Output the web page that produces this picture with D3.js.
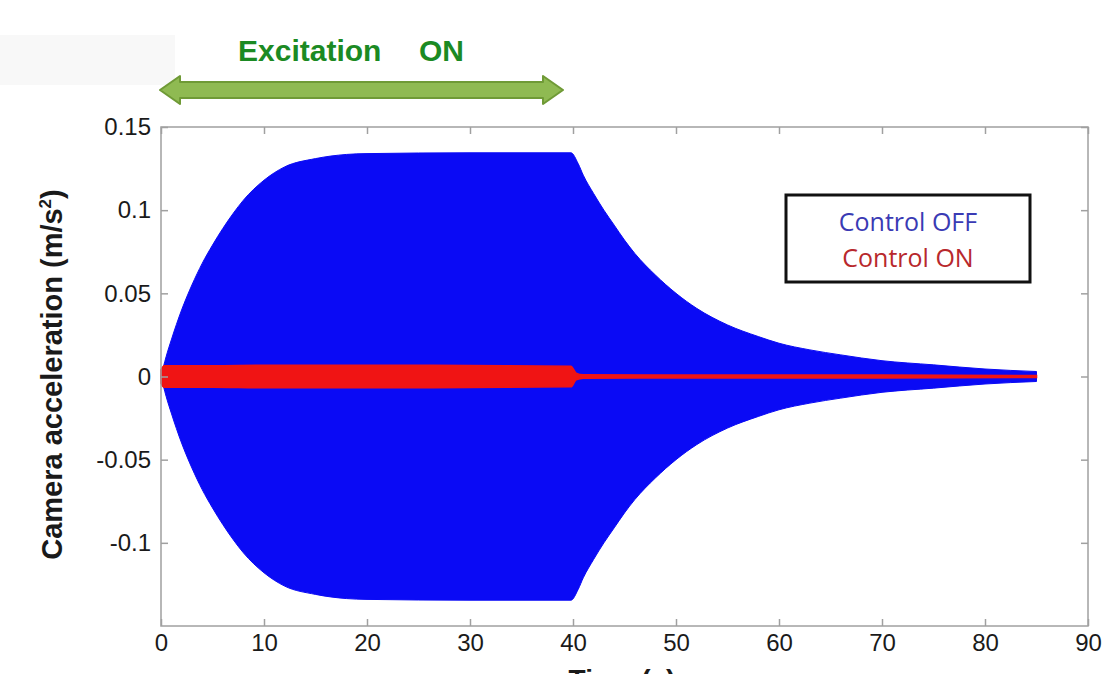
<!DOCTYPE html>
<html>
<head>
<meta charset="utf-8">
<script src="https://cdn.jsdelivr.net/npm/d3@7"></script>
<style>
  body { margin: 0; background: #fff; }
  svg { display: block; }
</style>
</head>
<body>
<svg id="chart" width="1106" height="674"></svg>
<script>
// envelope readings of the blue trace (control off), seconds / m/s2
const offTime = [0, 0.5, 1, 2, 3, 4, 5, 6, 7, 8, 10, 12, 15, 18, 20, 30, 39.8,
  40.5, 41, 42, 43, 44, 45, 46, 48, 50, 52, 55, 58, 60, 63, 66, 70, 75, 80, 85];
const offUpper = [0, 0.012, 0.022, 0.04, 0.055, 0.068, 0.079, 0.089, 0.098, 0.106, 0.118, 0.126, 0.131, 0.1335, 0.134, 0.1345, 0.1345,
  0.128, 0.121, 0.110, 0.100, 0.091, 0.082, 0.074, 0.061, 0.050, 0.041, 0.031, 0.024, 0.020, 0.016, 0.013, 0.0095, 0.007, 0.0045, 0.003];
const offLower = [0, -0.012, -0.022, -0.04, -0.055, -0.068, -0.079, -0.089, -0.098, -0.106, -0.118, -0.126, -0.131, -0.1335, -0.134, -0.1345, -0.1345,
  -0.128, -0.121, -0.110, -0.100, -0.091, -0.082, -0.074, -0.061, -0.050, -0.041, -0.031, -0.024, -0.020, -0.016, -0.013, -0.0095, -0.007, -0.0045, -0.003];

// envelope readings of the red trace (control on)
const onTime = [0, 0.3, 5, 10, 20, 30, 39.8, 40.3, 41, 50, 60, 70, 85];
const onUpper = [0.004, 0.0065, 0.0065, 0.0068, 0.0068, 0.0066, 0.0062, 0.002, 0.001, 0.0009, 0.0008, 0.0008, 0.0006];
const onLower = [-0.004, -0.0065, -0.0065, -0.0068, -0.0068, -0.0066, -0.0062, -0.002, -0.001, -0.0009, -0.0008, -0.0008, -0.0006];

const xTicks = [0, 10, 20, 30, 40, 50, 60, 70, 80, 90];
const yTicks = [-0.1, -0.05, 0, 0.05, 0.1, 0.15];
const legendLabels = ['Control OFF', 'Control ON'];
const excitation = [0, 40]; // seconds with excitation on

const svg = d3.select('#chart');
const plotLeft = 161, plotRight = 1088, plotTop = 127, plotBottom = 626;

const x = d3.scaleLinear().domain([0, 90]).range([plotLeft, plotRight]);
const y = d3.scaleLinear().domain([-0.15, 0.15]).range([plotBottom, plotTop]);

// faint background patch in the top-left corner
svg.append('rect')
  .attr('x', 0).attr('y', 35).attr('width', 175).attr('height', 50)
  .attr('fill', '#f8f8f8');

// traces
const offData = offTime.map((t, i) => ({ t, hi: offUpper[i], lo: offLower[i] }));
const onData = onTime.map((t, i) => ({ t, hi: onUpper[i], lo: onLower[i] }));

const area = d3.area()
  .x(d => x(d.t))
  .y0(d => y(d.lo))
  .y1(d => y(d.hi))
  .curve(d3.curveMonotoneX);

svg.append('path')
  .datum(offData)
  .attr('d', area)
  .attr('fill', '#0a0af5')
  .attr('stroke', '#0a0af5')
  .attr('stroke-width', 1);

svg.append('path')
  .datum(onData)
  .attr('d', area)
  .attr('fill', '#f01414')
  .attr('stroke', '#f01414')
  .attr('stroke-width', 1.6);

// axes box with inward ticks on all four sides
const axisColor = '#a0a0a0';
const tickLen = 7;
const labelFont = '"Liberation Sans", Arial, sans-serif';

const gAxis = svg.append('g');
gAxis.append('rect')
  .attr('x', plotLeft).attr('y', plotTop)
  .attr('width', plotRight - plotLeft).attr('height', plotBottom - plotTop)
  .attr('fill', 'none').attr('stroke', axisColor).attr('stroke-width', 1.5);

const xAxisBottom = d3.axisBottom(x).tickValues(xTicks).tickSize(-tickLen).tickPadding(8).tickFormat(d3.format('d'));
const xAxisTop = d3.axisTop(x).tickValues(xTicks).tickSize(-tickLen).tickFormat('');
const yAxisLeft = d3.axisLeft(y).tickValues(yTicks).tickSize(-tickLen).tickPadding(10).tickFormat(d => d === 0 ? '0' : String(+d.toFixed(2)));
const yAxisRight = d3.axisRight(y).tickValues(yTicks).tickSize(-tickLen).tickFormat('');

function styleAxis(g) {
  g.select('.domain').remove();
  g.selectAll('.tick line').attr('stroke', axisColor).attr('stroke-width', 1.5);
  g.selectAll('.tick text')
    .attr('fill', '#1a1a1a')
    .style('font-family', labelFont)
    .style('font-size', '24px');
}

gAxis.append('g').attr('transform', `translate(0,${plotBottom})`).call(xAxisBottom).call(styleAxis);
gAxis.append('g').attr('transform', `translate(0,${plotTop})`).call(xAxisTop).call(styleAxis);
gAxis.append('g').attr('transform', `translate(${plotLeft},0)`).call(yAxisLeft).call(styleAxis);
gAxis.append('g').attr('transform', `translate(${plotRight},0)`).call(yAxisRight).call(styleAxis);

// axis titles
svg.append('text')
  .attr('transform', `translate(62,${(plotTop + plotBottom) / 2 - 2}) rotate(-90)`)
  .attr('text-anchor', 'middle')
  .attr('fill', '#1a1a1a')
  .style('font-family', labelFont)
  .style('font-weight', 'bold')
  .style('font-size', '29px')
  .html('Camera acceleration (m/s<tspan dy="-11" font-size="17">2</tspan><tspan dy="11">)</tspan>');

svg.append('text')
  .attr('x', 622).attr('y', 689)
  .attr('text-anchor', 'middle')
  .attr('fill', '#1a1a1a')
  .style('font-family', labelFont)
  .style('font-weight', 'bold')
  .style('font-size', '28px')
  .text('Time (s)');

// excitation arrow
const ax0 = x(excitation[0]) - 1, ax1 = x(excitation[1]) - 10, ay = 90;
const head = 20, shaft = 8, wing = 14;
const arrowPts = [
  [ax0, ay], [ax0 + head, ay - wing], [ax0 + head, ay - shaft], [ax1 - head, ay - shaft],
  [ax1 - head, ay - wing], [ax1, ay], [ax1 - head, ay + wing], [ax1 - head, ay + shaft],
  [ax0 + head, ay + shaft], [ax0 + head, ay + wing]
];
svg.append('path')
  .attr('d', d3.line()(arrowPts) + 'Z')
  .attr('fill', '#8fba52')
  .attr('stroke', '#6f9a36')
  .attr('stroke-width', 2)
  .attr('stroke-linejoin', 'round');

const titleWords = ['Excitation', 'ON'];
const titleX = [238, 419];
svg.selectAll('text.exc')
  .data(titleWords)
  .enter()
  .append('text')
  .attr('class', 'exc')
  .attr('x', (d, i) => titleX[i]).attr('y', 61)
  .attr('fill', '#1b8a23')
  .style('font-family', labelFont)
  .style('font-weight', 'bold')
  .style('font-size', '30px')
  .text(d => d);

// legend box
const lg = svg.append('g');
lg.append('rect')
  .attr('x', 786).attr('y', 195).attr('width', 244).attr('height', 87)
  .attr('fill', '#fff').attr('stroke', '#111').attr('stroke-width', 3);

const legendColors = ['#3a3ab4', '#b8282c'];
lg.selectAll('text.leg')
  .data(legendLabels)
  .enter()
  .append('text')
  .attr('class', 'leg')
  .attr('x', 908)
  .attr('y', (d, i) => 231 + i * 36)
  .attr('text-anchor', 'middle')
  .attr('fill', (d, i) => legendColors[i])
  .style('font-family', '"Open Sans", "Noto Sans", sans-serif')
  .style('font-size', '25px')
  .text(d => d);
</script>
</body>
</html>
